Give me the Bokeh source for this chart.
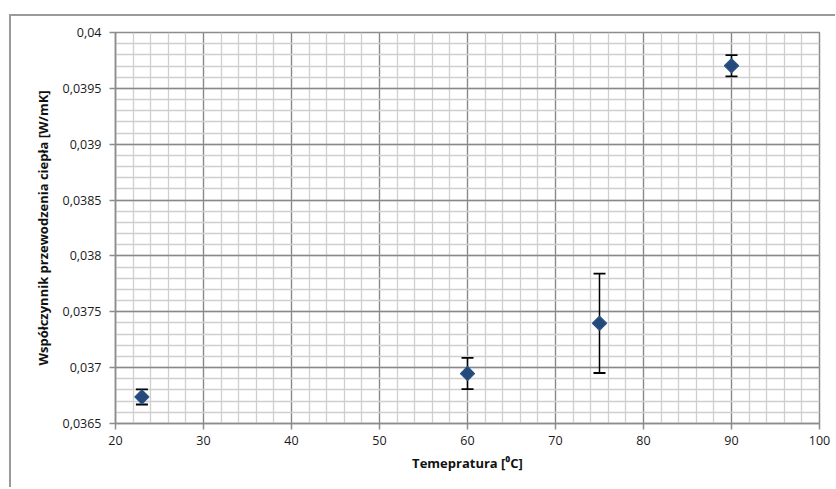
import math
from bokeh.plotting import figure
from bokeh.models import FixedTicker, ColumnDataSource, Whisker, TeeHead
from bokeh.embed import file_html
from bokeh.resources import INLINE

# Data
temperature = [23, 60, 75, 90]
conductivity = [0.036738, 0.036947, 0.037397, 0.039702]
error = [0.000068, 0.000140, 0.000445, 0.000095]

x_ticks = [20, 30, 40, 50, 60, 70, 80, 90, 100]
x_tick_labels = ["20", "30", "40", "50", "60", "70", "80", "90", "100"]
y_ticks = [0.0365, 0.037, 0.0375, 0.038, 0.0385, 0.039, 0.0395, 0.04]
y_tick_labels = ["0,0365", "0,037", "0,0375", "0,038", "0,0385", "0,039", "0,0395", "0,04"]
x_minor = [20 + 2 * i for i in range(41)]
y_minor = [round(0.0365 + 0.0001 * i, 5) for i in range(36)]

FONT = "Open Sans"

p = figure(width=826, height=473, output_backend="svg", toolbar_location=None,
           x_range=(20, 100), y_range=(0.0365, 0.04),
           min_border_left=104, min_border_right=18, min_border_top=16, min_border_bottom=66)
p.styles = {"margin-top": "14px", "margin-left": "9px",
            "border-top": "2px solid #9a9a9a", "border-left": "2px solid #9a9a9a"}
p.outline_line_color = "#8c8c8c"
p.outline_line_width = 1.5

p.xaxis.ticker = FixedTicker(ticks=x_ticks, minor_ticks=x_minor)
p.yaxis.ticker = FixedTicker(ticks=y_ticks, minor_ticks=y_minor)
p.xaxis.major_label_overrides = {t: l for t, l in zip(x_ticks, x_tick_labels)}
p.yaxis.major_label_overrides = {t: l for t, l in zip(y_ticks, y_tick_labels)}

for ax in (p.xaxis, p.yaxis):
    ax.axis_line_color = "#8c8c8c"
    ax.axis_line_width = 1.5
    ax.major_tick_line_color = "#8c8c8c"
    ax.major_tick_line_width = 1.5
    ax.major_tick_out = 6
    ax.major_tick_in = 0
    ax.minor_tick_line_color = None
    ax.major_label_text_font = FONT
    ax.major_label_text_font_size = "12.5px"
    ax.major_label_text_color = "#1a1a1a"
    ax.axis_label_text_font = FONT
    ax.axis_label_text_font_size = "13px"
    ax.axis_label_text_font_style = "bold"
    ax.axis_label_text_color = "#111111"

p.xaxis.major_label_standoff = 6
p.yaxis.major_label_standoff = 8
p.xaxis.axis_label = "Temepratura [⁰C]"
p.yaxis.axis_label = "Współczynnik przewodzenia ciepła [W/mK]"
p.xaxis.axis_label_standoff = 6
p.yaxis.axis_label_standoff = 8

for g in (p.xgrid, p.ygrid):
    g.grid_line_color = "#888888"
    g.grid_line_width = 1.3
    g.grid_line_alpha = 1.0
    g.minor_grid_line_color = "#cfcfcf"
    g.minor_grid_line_width = 1.3

src = ColumnDataSource(dict(
    x=temperature, y=conductivity,
    lower=[c - e for c, e in zip(conductivity, error)],
    upper=[c + e for c, e in zip(conductivity, error)],
))

w = Whisker(source=src, base="x", lower="lower", upper="upper",
            line_color="black", line_width=1.5,
            upper_head=TeeHead(size=12, line_color="black", line_width=1.8),
            lower_head=TeeHead(size=12, line_color="black", line_width=1.8))
p.add_layout(w)

p.scatter("x", "y", source=src, marker="square", angle=math.pi / 4, size=10,
          fill_color="#24497a", line_color="#2b5486", line_width=1.2)

open("out.html", "w").write(file_html(p, INLINE))
